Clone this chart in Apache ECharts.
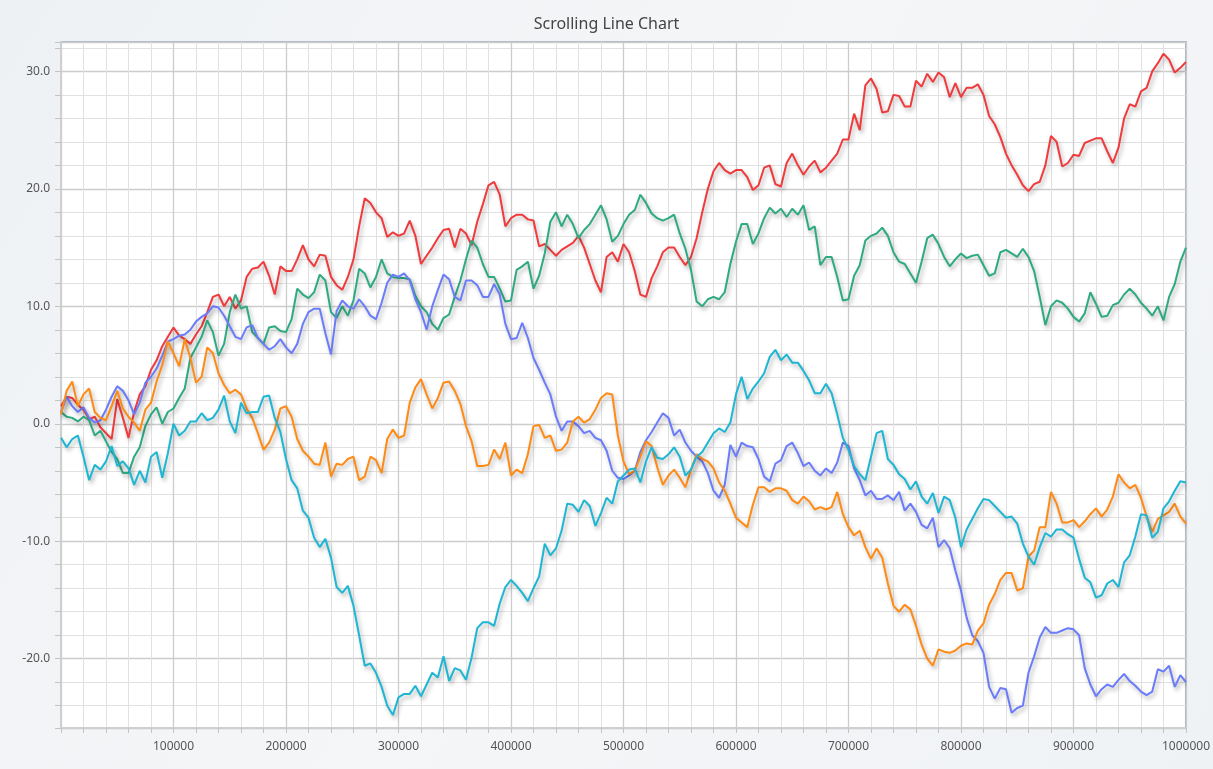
<!DOCTYPE html>
<html>
<head>
<meta charset="utf-8">
<title>Scrolling Line Chart</title>
<script src="https://cdn.jsdelivr.net/npm/echarts@6/dist/echarts.min.js"></script>
<style>
  html, body { margin: 0; padding: 0; }
  #chart { width: 1213px; height: 769px; }
</style>
</head>
<body>
<div id="chart"></div>
<script>
// sample spacing on the x axis (one reading every 5000)
const STEP = 5000

// values, one per step from 0 to 1000000
const redValues = [
  1.5, 2.3, 2.2, 1.6, 1.2, 0.4, 0.6, -0.3, -0.8, -1.3, 2.1, 0.5, -1.2, 1.0, 2.5, 3.2, 4.6, 5.4, 6.6, 7.4,
  8.2, 7.5, 7.2, 6.8, 7.6, 8.3, 9.5, 10.8, 11.0, 10.0, 10.8, 9.8, 10.5, 12.5, 13.2, 13.3, 13.8, 12.6, 11.0, 13.4,
  13.0, 13.0, 14.0, 15.2, 14.0, 13.4, 14.4, 14.3, 12.5, 11.8, 11.4, 12.5, 14.0, 16.8, 19.2, 18.8, 18.0, 17.5, 15.9, 16.3,
  16.0, 16.2, 17.3, 16.0, 13.6, 14.3, 15.0, 15.8, 16.5, 16.6, 15.0, 16.6, 16.2, 15.2, 17.2, 18.7, 20.3, 20.6, 19.5, 16.8,
  17.5, 17.8, 17.8, 17.4, 17.3, 15.1, 15.3, 14.8, 14.3, 14.8, 15.1, 15.4, 16.0, 15.0, 13.6, 12.2, 11.2, 14.2, 14.6, 13.8,
  15.3, 14.6, 13.0, 11.0, 10.8, 12.4, 13.4, 14.6, 15.0, 15.0, 14.2, 13.5, 14.2, 15.8, 18.0, 20.0, 21.5, 22.2, 21.6, 21.3,
  21.6, 21.6, 21.0, 19.9, 20.3, 21.8, 22.0, 20.4, 20.2, 22.2, 23.0, 22.0, 21.2, 21.9, 22.4, 21.4, 21.8, 22.4, 23.0, 24.2,
  24.2, 26.4, 25.0, 28.8, 29.4, 28.5, 26.5, 26.6, 28.0, 27.9, 27.0, 27.0, 29.2, 28.7, 29.8, 29.1, 29.9, 29.5, 27.8, 29.0,
  27.8, 28.6, 28.6, 28.9, 28.0, 26.2, 25.5, 24.4, 23.0, 22.0, 21.2, 20.3, 19.8, 20.4, 20.6, 22.0, 24.5, 24.0, 21.9, 22.2,
  22.9, 22.8, 23.9, 24.1, 24.3, 24.3, 23.2, 22.2, 23.5, 26.0, 27.2, 27.0, 28.3, 28.6, 30.0, 30.7, 31.5, 31.0, 29.9, 30.3,
  30.8
]
const greenValues = [
  1.0, 0.6, 0.5, 0.2, 0.6, 0.3, -1.0, -0.6, -1.5, -2.4, -3.0, -4.2, -4.2, -2.8, -2.0, -0.2, 0.8, 1.4, 0.0, 1.0,
  1.3, 2.2, 3.0, 5.6, 6.5, 7.4, 8.8, 7.8, 5.8, 6.8, 9.5, 11.0, 9.8, 10.0, 7.8, 7.3, 6.8, 8.2, 8.3, 7.9,
  7.8, 8.9, 11.5, 11.0, 10.7, 11.2, 12.7, 12.2, 9.5, 9.0, 10.0, 9.2, 10.5, 13.2, 12.8, 11.6, 12.5, 14.0, 12.8, 12.5,
  12.4, 12.4, 12.3, 10.9, 10.0, 9.5, 8.5, 8.0, 9.0, 9.3, 10.8, 12.2, 14.0, 15.6, 15.0, 13.6, 12.5, 12.5, 11.5, 10.4,
  10.5, 13.1, 13.4, 13.8, 11.5, 12.6, 14.5, 17.2, 18.0, 16.8, 17.8, 17.0, 15.8, 16.5, 17.0, 17.8, 18.6, 17.4, 15.5, 16.0,
  17.0, 17.8, 18.2, 19.5, 18.8, 17.9, 17.5, 17.3, 17.5, 17.8, 16.2, 14.9, 13.1, 10.4, 10.0, 10.6, 10.8, 10.6, 11.2, 13.6,
  15.5, 17.0, 17.0, 15.3, 16.2, 17.5, 18.4, 17.9, 18.3, 17.6, 18.3, 17.8, 18.6, 16.5, 16.8, 13.5, 14.2, 14.2, 12.5, 10.5,
  10.6, 12.6, 13.5, 15.6, 16.0, 16.2, 16.7, 16.0, 14.6, 13.8, 13.6, 12.8, 12.0, 13.8, 15.8, 16.1, 15.3, 14.2, 13.4, 14.0,
  14.5, 14.1, 14.3, 14.4, 13.5, 12.6, 12.8, 14.6, 14.8, 14.5, 14.2, 14.9, 14.2, 13.0, 10.8, 8.4, 10.0, 10.5, 10.3, 9.8,
  9.1, 8.7, 9.4, 11.2, 10.2, 9.1, 9.2, 10.1, 10.3, 11.0, 11.5, 11.0, 10.3, 9.8, 9.2, 10.0, 8.8, 10.8, 11.9, 13.8,
  15.0
]
const blueValues = [
  1.0, 2.3, 1.5, 1.0, 1.4, 0.5, 0.1, 0.3, 1.2, 2.3, 3.2, 2.8, 2.0, 0.8, 1.8, 3.5, 4.0, 4.7, 5.8, 7.0,
  7.2, 7.5, 7.6, 8.0, 8.7, 9.1, 9.4, 10.0, 9.9, 9.2, 8.3, 7.4, 7.2, 8.2, 8.4, 7.3, 6.8, 6.3, 6.6, 7.2,
  6.5, 6.0, 6.8, 8.5, 9.5, 9.8, 9.8, 7.7, 5.9, 9.6, 10.5, 10.0, 9.8, 10.6, 10.0, 9.2, 8.9, 10.3, 12.0, 12.7,
  12.5, 12.8, 12.2, 10.6, 9.5, 8.0, 10.0, 11.4, 12.7, 12.3, 10.8, 10.5, 12.2, 12.2, 11.8, 10.8, 10.8, 11.9, 11.0, 8.5,
  7.2, 7.3, 8.6, 7.3, 5.6, 4.6, 3.5, 2.5, 0.6, -0.6, 0.2, 0.2, -0.2, -0.8, -0.6, -1.2, -1.4, -2.3, -4.0, -4.6,
  -4.7, -4.4, -4.0, -2.4, -1.4, -0.7, 0.1, 0.9, 0.5, -1.0, -0.5, -1.6, -2.3, -2.8, -3.2, -4.2, -5.7, -6.3, -5.2, -1.8,
  -2.8, -1.6, -1.9, -2.0, -3.0, -4.5, -4.9, -3.4, -3.1, -1.9, -1.6, -2.5, -3.6, -3.3, -4.0, -4.4, -3.8, -4.2, -3.3, -1.6,
  -1.9, -3.8, -4.8, -6.1, -5.7, -6.4, -6.4, -6.1, -6.5, -5.8, -7.4, -6.8, -7.5, -8.6, -8.9, -8.0, -10.5, -9.9, -10.6, -12.5,
  -14.2, -16.5, -18.0, -18.5, -19.5, -22.4, -23.4, -22.5, -22.6, -24.6, -24.2, -24.0, -21.2, -19.8, -18.2, -17.3, -17.8, -17.8, -17.6, -17.4,
  -17.5, -18.0, -20.8, -22.2, -23.2, -22.6, -22.2, -22.4, -21.8, -21.3, -21.9, -22.3, -22.8, -23.1, -22.8, -20.9, -21.1, -20.6, -22.4, -21.4,
  -22.0
]
const orangeValues = [
  0.8, 2.8, 3.6, 1.5, 2.5, 3.0, 1.0, 0.5, 0.3, 1.5, 2.8, 1.3, 0.6, 0.1, -0.6, 1.2, 1.8, 3.6, 5.0, 7.0,
  6.0, 4.9, 7.2, 5.6, 3.5, 4.0, 6.5, 6.0, 4.3, 3.3, 2.6, 2.9, 2.5, 1.3, 0.5, -0.8, -2.2, -1.6, -0.5, 1.3,
  1.5, 0.6, -1.3, -2.3, -2.8, -3.4, -3.5, -1.6, -4.5, -3.4, -3.5, -3.0, -2.8, -4.8, -4.5, -2.8, -3.1, -4.2, -1.3, -0.5,
  -1.2, -1.0, 1.8, 3.1, 3.8, 2.5, 1.3, 2.2, 3.5, 3.6, 2.8, 1.7, -0.2, -1.5, -3.6, -3.6, -3.5, -2.2, -3.0, -1.6,
  -4.4, -3.9, -4.2, -2.6, -0.2, -0.1, -1.2, -1.0, -2.3, -2.2, -1.6, 0.2, 0.6, 0.1, 0.4, 1.2, 2.2, 2.6, 2.5, -1.0,
  -3.2, -4.3, -4.0, -2.8, -1.5, -1.9, -3.7, -5.2, -4.4, -3.9, -4.6, -5.4, -3.9, -2.6, -3.0, -3.2, -3.8, -5.0, -5.7, -6.8,
  -8.0, -8.4, -8.8, -6.9, -5.4, -5.4, -5.8, -5.5, -5.5, -5.7, -6.5, -6.8, -6.2, -6.6, -7.3, -7.1, -7.3, -7.1, -5.8, -7.7,
  -8.8, -9.5, -9.1, -10.5, -11.5, -10.6, -11.4, -13.6, -15.5, -16.0, -15.4, -15.8, -17.2, -18.8, -20.0, -20.6, -19.2, -19.4, -19.5, -19.3,
  -18.9, -18.7, -18.8, -17.6, -17.0, -15.4, -14.5, -13.3, -12.7, -12.7, -14.2, -14.0, -11.3, -10.8, -8.8, -8.8, -5.8, -6.8, -8.4, -8.4,
  -8.2, -8.8, -8.3, -7.7, -7.2, -7.9, -7.3, -6.2, -4.3, -5.0, -5.5, -5.2, -6.3, -7.9, -9.2, -8.1, -7.8, -7.5, -6.8, -7.9,
  -8.5
]
const cyanValues = [
  -1.2, -2.0, -1.3, -1.0, -2.8, -4.8, -3.5, -3.9, -3.2, -1.9, -3.6, -3.2, -3.8, -5.2, -4.0, -5.0, -2.8, -2.4, -4.6, -2.5,
  0.0, -1.0, -0.6, 0.2, 0.2, 0.9, 0.3, 0.5, 1.2, 2.4, 0.2, -0.8, 1.8, 0.9, 1.0, 1.0, 2.3, 2.4, 0.5, -0.7,
  -3.0, -4.8, -5.5, -7.4, -8.0, -9.7, -10.5, -9.8, -11.4, -13.9, -14.4, -13.8, -15.5, -18.0, -20.6, -20.4, -21.2, -22.4, -24.0, -24.8,
  -23.3, -23.0, -23.0, -22.3, -23.2, -22.2, -21.2, -21.6, -19.8, -21.9, -20.8, -21.0, -21.8, -19.9, -17.4, -16.9, -16.9, -17.2, -15.3, -13.9,
  -13.3, -13.8, -14.4, -15.1, -14.0, -13.0, -10.2, -11.2, -10.6, -9.1, -6.8, -6.9, -7.5, -6.5, -7.0, -8.7, -7.6, -6.3, -6.8, -4.9,
  -4.4, -3.9, -3.8, -5.0, -3.2, -2.0, -2.9, -3.0, -2.6, -2.0, -2.8, -4.4, -3.9, -2.8, -2.4, -1.6, -0.8, -0.4, -0.7, 0.1,
  2.5, 4.0, 2.1, 3.0, 3.6, 4.3, 5.7, 6.3, 5.4, 5.9, 5.2, 5.2, 4.5, 3.7, 2.6, 2.6, 3.4, 2.6, 0.8, -1.2,
  -2.2, -3.6, -4.3, -4.8, -2.8, -0.8, -0.6, -3.0, -3.5, -4.3, -4.7, -5.6, -4.9, -6.2, -6.8, -5.9, -7.6, -6.2, -6.5, -8.0,
  -10.5, -9.0, -8.1, -7.2, -6.4, -6.5, -7.0, -7.5, -8.0, -7.9, -8.5, -10.2, -11.3, -12.0, -10.5, -9.3, -9.6, -9.0, -9.0, -9.4,
  -9.7, -11.5, -13.1, -13.5, -14.8, -14.6, -13.6, -13.3, -13.9, -11.8, -11.2, -9.6, -7.7, -7.8, -9.7, -9.2, -7.2, -6.6, -5.7, -4.9,
  -5.0
]

const seriesList = [
  { name: 'red', color: '#f03a3c', values: redValues },
  { name: 'green', color: '#2eaa82', values: greenValues },
  { name: 'blue', color: '#6a7cfa', values: blueValues },
  { name: 'orange', color: '#ff8a14', values: orangeValues },
  { name: 'cyan', color: '#1db6d3', values: cyanValues },
]

const chartInstance = echarts.init(document.getElementById('chart'))

const option = {
  animation: false,
  backgroundColor: new echarts.graphic.LinearGradient(0, 0, 1, 1, [
    { offset: 0, color: '#eef1f4' },
    { offset: 0.5, color: '#f5f6f8' },
    { offset: 1, color: '#eff2f5' },
  ]),
  title: {
    text: 'Scrolling Line Chart',
    left: 'center',
    top: 11,
    textStyle: {
      fontFamily: 'Noto Sans',
      fontSize: 16,
      fontWeight: 'normal',
      color: '#444',
    },
  },
  // plot area, top and right border are the bluish frame
  grid: {
    left: 61,
    right: 25,
    top: 42,
    bottom: 41,
    show: true,
    backgroundColor: '#ffffff',
    borderColor: '#a9b8c8',
    borderWidth: 2,
  },
  xAxis: {
    type: 'value',
    min: 0,
    max: 1000000,
    interval: 100000,
    axisLine: { show: true, onZero: false, lineStyle: { color: '#cfcfcf', width: 2 } },
    axisTick: { show: true, length: 5, lineStyle: { color: '#c4c4c4' } },
    minorTick: { show: true, splitNumber: 5, length: 5, lineStyle: { color: '#c4c4c4' } },
    axisLabel: {
      showMinLabel: false,
      margin: 13,
      fontFamily: 'Noto Sans',
      fontSize: 12,
      color: '#555',
      formatter: (v) => String(v),
    },
    splitLine: { show: true, lineStyle: { color: '#cccccc', width: 1.3 } },
    minorSplitLine: { show: true, lineStyle: { color: '#e1e1e1', width: 1 } },
  },
  yAxis: {
    type: 'value',
    min: -25.9,
    max: 32.5,
    axisLine: { show: true, onZero: false, lineStyle: { color: '#cfcfcf', width: 2 } },
    axisTick: { show: true, length: 6, lineStyle: { color: '#c4c4c4' } },
    minorTick: { show: true, splitNumber: 5, length: 6, lineStyle: { color: '#c4c4c4' } },
    axisLabel: {
      showMinLabel: false,
      showMaxLabel: false,
      margin: 11,
      fontFamily: 'Noto Sans',
      fontSize: 12,
      color: '#555',
      formatter: (v) => v.toFixed(1),
    },
    splitLine: { show: true, lineStyle: { color: '#cccccc', width: 1.3 } },
    minorSplitLine: { show: true, lineStyle: { color: '#e1e1e1', width: 1 } },
  },
  series: seriesList.map(({ name, color, values }) => ({
    name,
    type: 'line',
    showSymbol: false,
    data: values.map((v, i) => [i * STEP, v]),
    lineStyle: {
      color,
      width: 2,
      shadowColor: 'rgba(0, 0, 0, 0.3)',
      shadowBlur: 4,
      shadowOffsetX: 2,
      shadowOffsetY: 3,
    },
    itemStyle: { color },
  })),
}

chartInstance.setOption(option)
</script>
</body>
</html>
